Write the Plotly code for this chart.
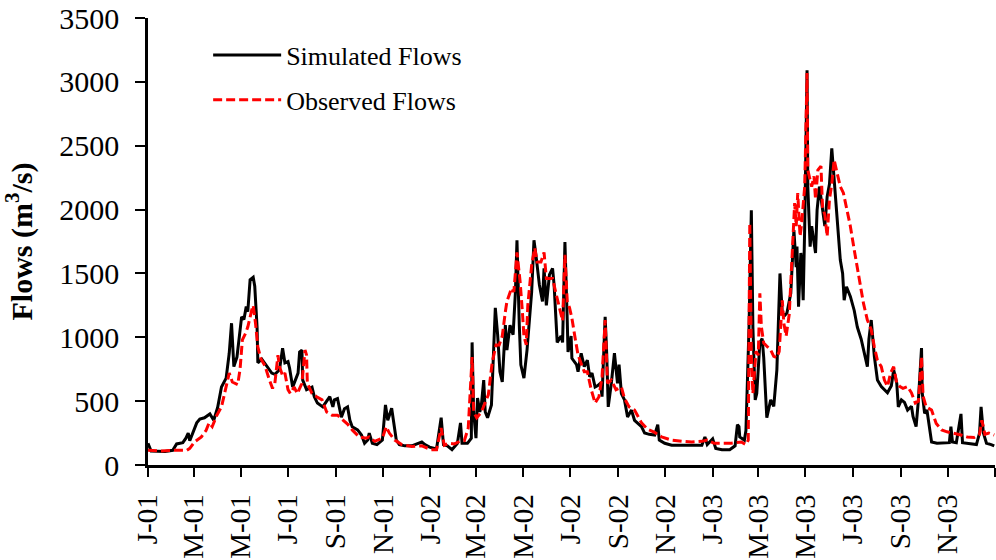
import plotly.graph_objects as go

# ---------------- data ----------------
sim_dates = [
    "2001-01-01", "2001-01-05", "2001-01-23",
    "2001-02-02", "2001-02-07", "2001-02-15", "2001-02-19", "2001-02-22", "2001-02-24",
    "2001-03-01", "2001-03-05", "2001-03-09", "2001-03-15", "2001-03-22", "2001-03-27",
    "2001-04-01", "2001-04-06", "2001-04-12", "2001-04-16", "2001-04-19", "2001-04-22", "2001-04-26", "2001-04-30",
    "2001-05-02", "2001-05-05", "2001-05-08", "2001-05-10", "2001-05-13", "2001-05-17", "2001-05-19", "2001-05-22", "2001-05-23", "2001-05-28",
    "2001-06-04", "2001-06-10", "2001-06-14", "2001-06-20", "2001-06-24", "2001-06-27",
    "2001-07-01", "2001-07-03", "2001-07-07", "2001-07-14", "2001-07-16", "2001-07-19", "2001-07-20", "2001-07-25",
    "2001-08-01", "2001-08-04", "2001-08-08", "2001-08-15", "2001-08-20", "2001-08-24", "2001-08-28", "2001-08-30",
    "2001-09-03", "2001-09-08", "2001-09-12", "2001-09-16", "2001-09-19", "2001-09-22", "2001-09-29",
    "2001-10-04", "2001-10-08", "2001-10-12", "2001-10-14", "2001-10-18", "2001-10-24", "2001-10-31",
    "2001-11-04", "2001-11-07", "2001-11-12", "2001-11-15", "2001-11-18", "2001-11-22", "2001-11-29",
    "2001-12-08", "2001-12-16", "2001-12-21", "2001-12-25", "2001-12-31",
    "2002-01-09", "2002-01-15", "2002-01-18", "2002-01-23", "2002-01-29",
    "2002-02-05", "2002-02-09", "2002-02-11", "2002-02-18", "2002-02-23", "2002-02-24", "2002-02-26",
    "2002-03-01", "2002-03-03", "2002-03-06", "2002-03-08", "2002-03-11", "2002-03-13", "2002-03-16", "2002-03-21", "2002-03-26", "2002-03-29",
    "2002-04-01", "2002-04-04", "2002-04-08", "2002-04-10", "2002-04-14", "2002-04-18", "2002-04-21", "2002-04-23", "2002-04-26", "2002-04-28",
    "2002-05-02", "2002-05-06", "2002-05-12", "2002-05-15", "2002-05-18", "2002-05-22", "2002-05-26", "2002-05-28", "2002-05-31",
    "2002-06-04", "2002-06-08", "2002-06-10", "2002-06-14", "2002-06-19", "2002-06-21", "2002-06-24", "2002-06-27", "2002-06-28",
    "2002-07-02", "2002-07-03", "2002-07-09", "2002-07-11", "2002-07-15", "2002-07-19", "2002-07-23", "2002-07-26", "2002-07-29",
    "2002-08-02", "2002-08-05", "2002-08-09", "2002-08-11", "2002-08-15", "2002-08-17", "2002-08-19", "2002-08-23", "2002-08-27", "2002-08-31",
    "2002-09-02", "2002-09-05", "2002-09-09", "2002-09-13", "2002-09-18", "2002-09-22", "2002-09-26",
    "2002-10-01", "2002-10-05", "2002-10-11", "2002-10-18", "2002-10-22", "2002-10-24", "2002-10-31",
    "2002-11-09", "2002-11-22",
    "2002-12-05", "2002-12-18", "2002-12-22", "2002-12-25",
    "2003-01-01", "2003-01-05", "2003-01-13", "2003-01-23", "2003-01-30",
    "2003-02-02", "2003-02-04", "2003-02-05", "2003-02-11", "2003-02-13", "2003-02-17", "2003-02-20", "2003-02-22", "2003-02-25", "2003-02-27",
    "2003-03-03", "2003-03-06", "2003-03-08", "2003-03-12", "2003-03-17", "2003-03-21", "2003-03-25", "2003-03-29",
    "2003-04-01", "2003-04-04", "2003-04-07", "2003-04-12", "2003-04-13", "2003-04-16", "2003-04-19", "2003-04-20", "2003-04-22", "2003-04-25", "2003-04-26", "2003-04-28", "2003-04-30",
    "2003-05-03", "2003-05-04", "2003-05-07", "2003-05-09", "2003-05-12", "2003-05-14", "2003-05-16", "2003-05-19", "2003-05-22", "2003-05-26", "2003-05-29",
    "2003-06-01", "2003-06-04", "2003-06-06", "2003-06-09", "2003-06-11", "2003-06-15", "2003-06-18", "2003-06-20", "2003-06-23", "2003-06-28",
    "2003-07-03", "2003-07-07", "2003-07-12", "2003-07-16", "2003-07-20", "2003-07-22", "2003-07-25", "2003-07-29",
    "2003-08-02", "2003-08-07", "2003-08-11", "2003-08-15", "2003-08-20", "2003-08-23", "2003-08-27", "2003-08-29",
    "2003-09-02", "2003-09-06", "2003-09-10", "2003-09-15", "2003-09-17", "2003-09-21", "2003-09-24", "2003-09-28", "2003-09-29",
    "2003-10-02", "2003-10-05", "2003-10-09", "2003-10-11", "2003-10-18", "2003-10-27",
    "2003-11-03", "2003-11-05", "2003-11-07", "2003-11-12", "2003-11-18", "2003-11-20", "2003-11-28",
    "2003-12-08", "2003-12-12", "2003-12-14", "2003-12-17", "2003-12-21", "2003-12-27", "2003-12-31",
]
sim_flows = [
    170, 110, 105,
    115, 165, 175, 210, 250, 190,
    260, 330, 360, 370, 400, 350,
    450, 610, 680, 875, 1110, 770, 845, 1080,
    1160, 1140, 1240, 1200, 1450, 1470, 1400, 1080, 800, 830,
    770, 720, 710, 745, 915, 800,
    810, 760, 610, 720, 885, 900, 665, 590,
    610, 535, 485, 455, 500, 535, 455, 510,
    520, 375, 440, 455, 350, 300, 275,
    235, 170, 195, 250, 170, 160, 195,
    470, 350, 445, 320, 195, 160, 150,
    150, 170, 180, 160, 140,
    125, 370, 160, 150, 120,
    170, 330, 170, 170, 210, 960, 415,
    210, 525, 415, 470, 665, 415, 370, 470, 1230, 1020,
    730, 650, 1095, 900, 1095, 1020, 1355, 1760, 1095, 785,
    680, 900, 1355, 1760, 1620, 1410, 1280, 1540, 1250,
    1490, 1540, 1410, 960, 1010, 960, 1745, 1130, 885,
    1010, 835, 785, 730, 875, 770, 820, 690, 720,
    610, 620, 640, 535, 1160, 875, 455, 640, 875, 640,
    785, 560, 510, 375, 430, 350, 330,
    300, 250, 240, 235, 315, 195, 170,
    155, 155,
    150, 155, 220, 160,
    205, 130, 120, 120, 150,
    315, 300, 220, 195, 270, 1080, 1995, 1080, 510, 560,
    955, 990, 840, 370, 510, 460, 745, 1500,
    1190, 1170, 1190, 1345, 1470, 1840, 1550, 1710, 1240, 1660, 1600, 1290, 1870,
    3090, 2180, 1710, 1870, 1740, 1660, 1995, 2180, 2050, 1870, 2100,
    2200, 2480, 2310, 2080, 1920, 1605, 1500, 1290, 1395, 1320,
    1210, 1080, 985, 880, 770, 985, 1135, 850,
    665, 615, 590, 565, 620, 745, 640, 455,
    510, 490, 430, 460, 380, 300, 510, 915, 560,
    405, 430, 250, 180, 170, 170,
    175, 300, 180, 175, 400, 175, 170,
    160, 250, 455, 250, 170, 160, 150,
]

obs_dates = [
    "2001-01-01", "2001-01-16",
    "2001-02-04", "2001-02-20", "2001-02-24",
    "2001-03-02", "2001-03-11", "2001-03-17", "2001-03-21", "2001-03-25", "2001-03-31",
    "2001-04-06", "2001-04-10", "2001-04-16", "2001-04-20", "2001-04-27", "2001-04-30",
    "2001-05-03", "2001-05-07", "2001-05-10", "2001-05-15", "2001-05-17", "2001-05-20", "2001-05-23", "2001-05-27",
    "2001-06-01", "2001-06-07", "2001-06-11", "2001-06-14", "2001-06-18", "2001-06-20", "2001-06-24", "2001-06-27",
    "2001-07-01", "2001-07-04", "2001-07-09", "2001-07-13", "2001-07-19", "2001-07-23", "2001-07-25", "2001-07-26",
    "2001-08-01", "2001-08-07", "2001-08-14", "2001-08-20", "2001-08-27",
    "2001-09-03", "2001-09-10", "2001-09-16", "2001-09-22",
    "2001-10-01", "2001-10-10", "2001-10-14", "2001-10-21", "2001-10-31",
    "2001-11-05", "2001-11-09", "2001-11-16", "2001-11-25",
    "2001-12-08", "2001-12-21",
    "2002-01-02", "2002-01-09", "2002-01-15", "2002-01-19", "2002-01-25",
    "2002-02-01", "2002-02-08", "2002-02-14", "2002-02-19", "2002-02-24", "2002-02-26",
    "2002-03-02", "2002-03-08", "2002-03-12", "2002-03-17", "2002-03-22", "2002-03-27", "2002-03-31",
    "2002-04-04", "2002-04-08", "2002-04-10", "2002-04-16", "2002-04-19", "2002-04-23", "2002-04-27", "2002-04-30",
    "2002-05-02", "2002-05-05", "2002-05-07", "2002-05-12", "2002-05-16", "2002-05-19", "2002-05-24", "2002-05-28", "2002-05-31",
    "2002-06-04", "2002-06-08", "2002-06-13", "2002-06-17", "2002-06-21", "2002-06-24", "2002-06-27", "2002-06-30",
    "2002-07-03", "2002-07-07", "2002-07-09", "2002-07-11", "2002-07-15", "2002-07-19", "2002-07-23", "2002-07-28",
    "2002-08-02", "2002-08-07", "2002-08-11", "2002-08-15", "2002-08-18", "2002-08-23", "2002-08-29",
    "2002-09-05", "2002-09-09", "2002-09-15", "2002-09-22", "2002-09-26",
    "2002-10-01", "2002-10-09", "2002-10-18", "2002-10-27",
    "2002-11-09", "2002-11-22",
    "2002-12-05", "2002-12-18", "2002-12-25",
    "2003-01-03", "2003-01-13", "2003-01-25",
    "2003-02-07", "2003-02-13", "2003-02-16", "2003-02-18", "2003-02-20", "2003-02-22", "2003-02-26",
    "2003-03-01", "2003-03-03", "2003-03-05", "2003-03-08", "2003-03-12", "2003-03-17", "2003-03-21", "2003-03-25", "2003-03-28",
    "2003-04-01", "2003-04-03", "2003-04-06", "2003-04-10", "2003-04-12", "2003-04-15", "2003-04-17", "2003-04-19", "2003-04-21", "2003-04-24", "2003-04-26", "2003-04-30",
    "2003-05-03", "2003-05-04", "2003-05-07", "2003-05-09", "2003-05-12", "2003-05-14", "2003-05-17", "2003-05-21", "2003-05-23", "2003-05-26", "2003-05-29",
    "2003-06-01", "2003-06-04", "2003-06-07", "2003-06-10", "2003-06-15", "2003-06-19", "2003-06-23", "2003-06-28",
    "2003-07-03", "2003-07-07", "2003-07-11", "2003-07-15", "2003-07-20", "2003-07-25", "2003-07-29",
    "2003-08-02", "2003-08-07", "2003-08-11", "2003-08-15", "2003-08-19", "2003-08-23", "2003-08-27", "2003-08-31",
    "2003-09-04", "2003-09-10", "2003-09-15", "2003-09-20", "2003-09-24", "2003-09-28", "2003-09-30",
    "2003-10-04", "2003-10-11", "2003-10-17", "2003-10-24", "2003-10-31",
    "2003-11-09", "2003-11-18", "2003-11-26",
    "2003-12-05", "2003-12-12", "2003-12-15", "2003-12-19", "2003-12-24", "2003-12-31",
]
obs_flows = [
    115, 110,
    115, 115, 130,
    180, 220, 270, 330, 300, 390,
    455, 560, 720, 650, 630, 750,
    980, 1030, 1080, 1210, 1250, 1110, 925, 830,
    780, 665, 600, 640, 860, 770, 700, 720,
    590, 560, 610, 560, 640, 900, 860, 640,
    560, 535, 510, 415, 390,
    390, 350, 320, 275,
    220, 210, 220, 185, 210,
    300, 250, 195, 160,
    145, 150,
    120, 120, 290, 155, 170,
    165, 185, 190, 290, 845, 415,
    370, 415, 470, 550, 805, 940, 940,
    1010, 1200, 1280, 1385, 1355, 1665, 1440, 1200,
    1010, 940, 1250, 1565, 1700, 1590, 1590, 1665, 1460,
    1460, 1460, 1330, 1230, 1130, 1645, 1280, 1230,
    1150, 1000, 940, 860, 795, 730, 730, 590,
    485, 535, 690, 1135, 640, 665, 590,
    610, 520, 455, 430, 380,
    330, 280, 255, 220,
    195, 185,
    180, 185, 195,
    170, 170, 170,
    180, 160, 195, 1895, 840, 560, 890,
    860, 1345, 1080, 955, 930, 900, 850, 840, 890,
    1290, 1110, 1010, 1180, 1450, 1840, 2050, 1870, 2130, 1790, 1890, 2180,
    3070, 2310, 2230, 2180, 2260, 2080, 2310, 2340, 2020, 1960, 1790,
    2080, 2200, 2390, 2310, 2180, 2130, 2020, 1870,
    1685, 1550, 1395, 1265, 1135, 1060, 925,
    820, 770, 665, 615, 720, 770, 640, 615,
    600, 615, 565, 485, 500, 850, 540,
    455, 430, 325, 275, 260,
    250, 235, 220,
    215, 240, 350, 240, 250, 235,
]

tick_dates = [
    "2001-01-01", "2001-03-01", "2001-05-01", "2001-07-01", "2001-09-01", "2001-11-01",
    "2002-01-01", "2002-03-01", "2002-05-01", "2002-07-01", "2002-09-01", "2002-11-01",
    "2003-01-01", "2003-03-01", "2003-05-01", "2003-07-01", "2003-09-01", "2003-11-01",
    "2004-01-01",
]
tick_labels = [
    "J-01", "M-01", "M-01", "J-01", "S-01", "N-01",
    "J-02", "M-02", "M-02", "J-02", "S-02", "N-02",
    "J-03", "M-03", "M-03", "J-03", "S-03", "N-03",
    " ",
]

assert len(sim_dates) == len(sim_flows), (len(sim_dates), len(sim_flows))
assert len(obs_dates) == len(obs_flows), (len(obs_dates), len(obs_flows))

FONT = "'Liberation Serif', 'Times New Roman', serif"

fig = go.Figure()
fig.add_trace(go.Scatter(
    x=sim_dates, y=sim_flows, mode="lines", name="Simulated Flows",
    legendgroup="sim",
    line=dict(color="#000000", width=3),
))
fig.add_trace(go.Scatter(
    x=obs_dates, y=obs_flows, mode="lines", name="Observed Flows",
    legendgroup="obs",
    line=dict(color="#ff0000", width=3, dash="9px,4px"),
))

fig.update_layout(
    width=996, height=560,
    margin=dict(l=148, r=1, t=18, b=95),
    paper_bgcolor="white", plot_bgcolor="white",
    font=dict(family=FONT, color="black"),
    showlegend=True,
    legend=dict(
        x=0.071, y=0.9695, xanchor="left", yanchor="top",
        bgcolor="rgba(0,0,0,0)", borderwidth=0,
        font=dict(family=FONT, size=26, color="black"),
        itemwidth=68, tracegroupgap=8,
    ),
    xaxis=dict(
        type="date", range=["2001-01-01", "2004-01-01"],
        tickmode="array", tickvals=tick_dates, ticktext=tick_labels,
        tickangle=-90, ticks="outside", ticklen=9, tickwidth=2.2, tickcolor="black",
        showline=True, linewidth=2.5, linecolor="black",
        showgrid=False, zeroline=False,
        tickfont=dict(family=FONT, size=29, color="black"),
        ticklabelstandoff=6,
    ),
    yaxis=dict(
        range=[0, 3500], tickmode="linear", tick0=0, dtick=500,
        ticks="outside", ticklen=10, tickwidth=2.2, tickcolor="black",
        showline=True, linewidth=2.5, linecolor="black",
        showgrid=False, zeroline=False,
        tickfont=dict(family=FONT, size=30, color="black"),
        ticklabelstandoff=10,
        title=dict(text="<b>Flows (m<sup>3</sup>/s)</b>",
                   font=dict(family=FONT, size=30, color="black"), standoff=19),
    ),
)

fig.write_html("out.html", config={"displayModeBar": False})
